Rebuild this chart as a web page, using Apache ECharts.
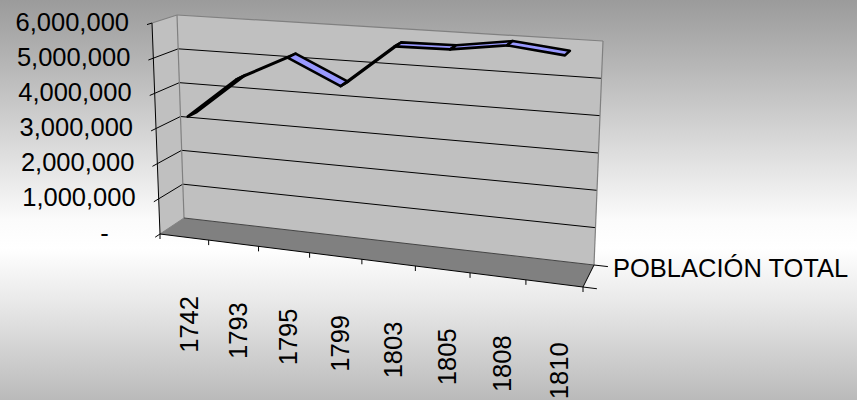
<!DOCTYPE html>
<html>
<head>
<meta charset="utf-8">
<script src="https://cdn.jsdelivr.net/npm/echarts@6/dist/echarts.min.js"></script>
<style>
  html, body { margin: 0; padding: 0; }
  #chart { width: 857px; height: 400px; }
</style>
</head>
<body>
<div id="chart"></div>
<script>
// Census years and total population
const years = ['1742', '1793', '1795', '1799', '1803', '1805', '1808', '1810'];
const population = [3300000, 4480000, 5200000, 4520000, 5720000, 5740000, 5950000, 5790000];
const seriesName = 'POBLACIÓN TOTAL';

// Value axis ticks and their printed labels
const valueTicks = [0, 1000000, 2000000, 3000000, 4000000, 5000000, 6000000];
const valueTickLabels = ['-', '1,000,000', '2,000,000', '3,000,000', '4,000,000', '5,000,000', '6,000,000'];

// Screen corners of the 3-D plot box (front/back, bottom/top, left/right)
const box = {
  fbl: [160, 234], fbr: [583, 287], bbl: [184, 218], bbr: [594, 265],
  ftl: [152, 23],  ftr: [591, 53],  btl: [177, 15],  btr: [603, 41]
};
const ribbonDepth = [0.31, 0.69];   // depth band occupied by the line ribbon
const FONT = '"Liberation Sans", Arial, sans-serif';
const FONT_SIZE = 25.5;

function lerp(a, b, t) { return [a[0] + (b[0] - a[0]) * t, a[1] + (b[1] - a[1]) * t]; }
// slight foreshortening along the category direction
function persp(u) { return (u + 0.1 * u * u) / 1.1; }
// u: category fraction, v: value fraction, w: depth (0 front, 1 back)
function project(u, v, w) {
  const s = persp(u);
  const fb = lerp(box.fbl, box.fbr, s), bb = lerp(box.bbl, box.bbr, s);
  const ft = lerp(box.ftl, box.ftr, s), bt = lerp(box.btl, box.btr, s);
  return lerp(lerp(fb, bb, w), lerp(ft, bt, w), v);
}
// pixel from the hidden cartesian grid -> normalized (u, v)
function toUV(pt, cs) {
  return [(pt[0] - cs.x) / cs.width, (cs.y + cs.height - pt[1]) / cs.height];
}

function line(a, b, color, width, z2) {
  return { type: 'line', z2: z2 || 0, shape: { x1: a[0], y1: a[1], x2: b[0], y2: b[1] },
           style: { stroke: color, lineWidth: width || 1 } };
}
function poly(pts, fill, z2) {
  return { type: 'polygon', z2: z2 || 0, shape: { points: pts }, style: { fill: fill } };
}

function renderFrame(params, api) {
  const cs = params.coordSys;
  const children = [];
  const P = (u, v, w) => project(u, v, w);

  // walls and floor
  children.push(poly([P(0,0,0), P(0,0,1), P(0,1,1), P(0,1,0)], '#c0c0c0'));
  children.push(poly([P(0,0,1), P(1,0,1), P(1,1,1), P(0,1,1)], '#c0c0c0'));
  children.push(poly([P(0,0,0), P(1,0,0), P(1,0,1), P(0,0,1)], '#808080'));

  // gridlines on side and back walls, ticks and labels on the value axis
  valueTicks.forEach((val, k) => {
    const v = toUV(api.coord([0, val]), cs)[1];
    if (k > 0 && k < valueTicks.length - 1) {
      children.push(line(P(0, v, 0), P(0, v, 1), '#000', 1, 2));
      children.push(line(P(0, v, 1), P(1, v, 1), '#000', 1, 2));
    }
    const a = P(0, v, 0), b = P(0, v, 1);
    const tickEnd = [a[0] - 0.2 * (b[0] - a[0]), a[1] - 0.2 * (b[1] - a[1])];
    children.push(line(a, tickEnd, '#000', 1, 3));
    let lx = a[0] - 23;
    if (valueTickLabels[k] === '-') lx -= 2 * 0.556 * FONT_SIZE;   // accounting-style zero
    children.push({ type: 'text', x: lx, y: a[1] - 1.5, z2: 5,
      style: { text: valueTickLabels[k], fill: '#000', fontSize: FONT_SIZE, fontFamily: FONT,
               align: 'right', verticalAlign: 'middle' } });
  });

  // wall borders
  children.push(line(P(0,1,0), P(0,1,1), '#808080', 1.2, 3));
  children.push(line(P(0,1,1), P(1,1,1), '#808080', 1.2, 3));
  children.push(line(P(0,0,1), P(0,1,1), '#808080', 1.2, 3));
  children.push(line(P(1,0,1), P(1,1,1), '#808080', 1.2, 3));
  children.push(line(P(0,0,0), P(0,0,1), '#808080', 1, 3));
  children.push(line(P(0,0,1), P(1,0,1), '#444', 1, 3));

  // axis lines
  children.push(line(P(0,0,0), P(0,1,0), '#000', 1, 4));
  children.push(line(P(0,0,0), P(1,0,0), '#000', 1, 4));
  children.push(line(P(1,0,0), P(1,0,1), '#000', 1, 4));
  // depth-axis ticks
  [[P(1,0,0), P(0,0,0)], [P(1,0,1), P(0,0,1)]].forEach(([p, q]) => {
    const d = Math.hypot(p[0] - q[0], p[1] - q[1]);
    children.push(line(p, [p[0] + (p[0] - q[0]) / d * 14, p[1] + (p[1] - q[1]) / d * 14], '#000', 1, 4));
  });

  // category ticks at band boundaries and rotated year labels
  const centers = years.map((y, i) => toUV(api.coord([i, 0]), cs)[0]);
  const band = centers.length > 1 ? centers[1] - centers[0] : 1;
  for (let k = 0; k <= years.length; k++) {
    const u = k < years.length ? centers[k] - band / 2 : centers[k - 1] + band / 2;
    const p = P(u, 0, 0);
    children.push(line(p, [p[0], p[1] + 5], '#000', 1, 4));
  }
  years.forEach((yr, i) => {
    const p = P(centers[i], 0, 0);
    children.push({ type: 'text', x: p[0] + 4.5, y: p[1] + 59, rotation: Math.PI / 2, z2: 5,
      style: { text: yr, fill: '#000', fontSize: FONT_SIZE, fontFamily: FONT,
               align: 'right', verticalAlign: 'middle' } });
  });

  // series (depth) axis label
  const m = lerp(P(1,0,0), P(1,0,1), 0.5);
  children.push({ type: 'text', x: m[0] + 24.5, y: m[1] - 8, z2: 5,
    style: { text: seriesName, fill: '#000', fontSize: FONT_SIZE, fontFamily: FONT,
             align: 'left', verticalAlign: 'middle' } });

  return { type: 'group', children: children };
}

function renderRibbon(params, api) {
  const cs = params.coordSys;
  const a = toUV(api.coord([api.value(0), api.value(1)]), cs);
  const b = toUV(api.coord([api.value(2), api.value(3)]), cs);
  const [w0, w1] = ribbonDepth;
  const pts = [project(a[0], a[1], w0), project(b[0], b[1], w0),
               project(b[0], b[1], w1), project(a[0], a[1], w1)];
  return { type: 'polygon', shape: { points: pts },
           style: { fill: '#9999ff', stroke: '#000', lineWidth: 2.6, lineJoin: 'round' } };
}

const segments = population.slice(0, -1).map((v, i) => [i, v, i + 1, population[i + 1]]);

const chart = echarts.init(document.getElementById('chart'), null, { renderer: 'svg' });
chart.setOption({
  animation: false,
  backgroundColor: {
    type: 'linear', x: 0, y: 0, x2: 0, y2: 1,
    colorStops: [
      { offset: 0, color: '#9b9b9b' },
      { offset: 0.15, color: '#b4b4b4' },
      { offset: 0.55, color: '#fbfbfb' },
      { offset: 0.62, color: '#ffffff' },
      { offset: 0.76, color: '#e8e8e8' },
      { offset: 1, color: '#bababa' }
    ]
  },
  grid: { left: 100, top: 100, width: 600, height: 200 },
  xAxis: { type: 'category', data: years, boundaryGap: true, show: false },
  yAxis: { type: 'value', min: 0, max: 6000000, interval: 1000000, show: false },
  series: [
    { type: 'custom', name: 'frame', clip: false, z: 1, silent: true,
      data: [[0, 0]], renderItem: renderFrame },
    { type: 'custom', name: seriesName, clip: false, z: 2, silent: true,
      encode: { x: [0, 2], y: [1, 3] }, data: segments, renderItem: renderRibbon }
  ]
});
</script>
</body>
</html>
